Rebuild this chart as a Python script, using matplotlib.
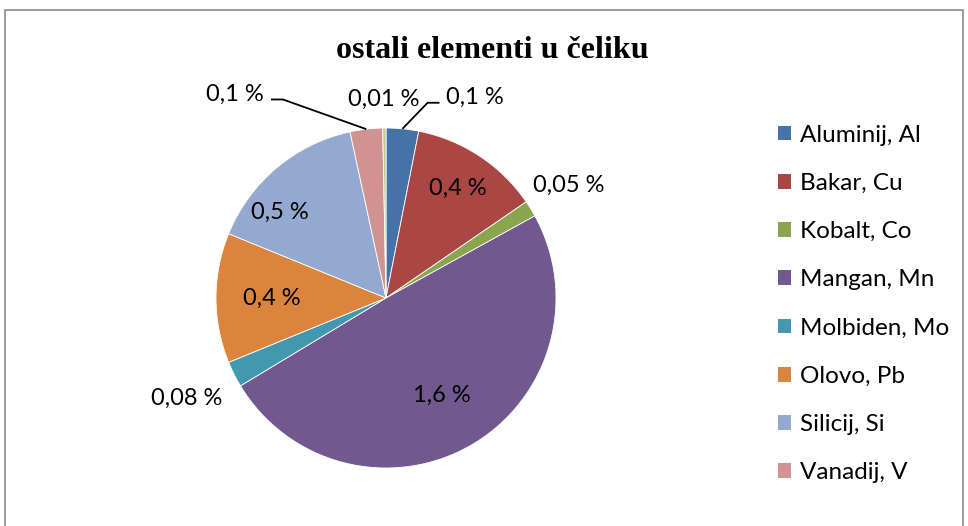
import matplotlib.pyplot as plt
import numpy as np
from matplotlib.patches import Rectangle

plt.rcParams['font.family'] = ['Lato', 'DejaVu Sans']

# data
elements = ['Aluminij, Al', 'Bakar, Cu', 'Kobalt, Co', 'Mangan, Mn', 'Molbiden, Mo',
            'Olovo, Pb', 'Silicij, Si', 'Vanadij, V', 'ostalo']
values = [0.1, 0.4, 0.05, 1.6, 0.08, 0.4, 0.5, 0.1, 0.01]
value_labels = ['0,1 %', '0,4 %', '0,05 %', '1,6 %', '0,08 %', '0,4 %', '0,5 %', '0,1 %', '0,01 %']
colors = ['#4572A7', '#AA4643', '#89A54E', '#71588F', '#4198AF',
          '#DB843D', '#93A9CF', '#D19392', '#B9CD96']
n_legend = 8  # last slice has no legend entry in the original

# label placement: (radius, angle override or None, leader line)
label_pos = [(1.29, 66, True), (0.77, None, False), (1.26, None, False),
             (0.66, None, False), (1.31, None, False), (0.67, None, False),
             (0.80, 141, False), (1.49, 126.5, True), (1.17, None, False)]

W, H = 968, 526
fig = plt.figure(figsize=(W / 100, H / 100), dpi=100)

# chart frame
fig.patches.append(Rectangle((5 / W, -0.05), 958 / W, (H - 10) / H + 0.05,
                             transform=fig.transFigure, fill=False,
                             edgecolor='#8c8c8c', linewidth=1.2))

R = 170.0
cx, cy = 386, 298
left, right, top, bottom = 140, 640, 70, 526
ax = fig.add_axes([left / W, (H - bottom) / H, (right - left) / W, (bottom - top) / H])

wedges, _ = ax.pie(values, colors=colors, startangle=90, counterclock=False,
                   radius=1.0, center=(0, 0), frame=True,
                   wedgeprops=dict(edgecolor='white', linewidth=0.6))
ax.axis('off')
ax.set_xlim((left - cx) / R, (right - cx) / R)
ax.set_ylim((cy - bottom) / R, (cy - top) / R)

for w, txt, (r, ang, leader) in zip(wedges, value_labels, label_pos):
    mid = (w.theta1 + w.theta2) / 2.0
    a = np.deg2rad(ang if ang is not None else mid)
    tx, ty = r * np.cos(a), r * np.sin(a)
    ax.text(tx, ty, txt, ha='center', va='center', fontsize=17, color='black')
    if leader:
        m = np.deg2rad(mid)
        ex, ey = 1.0 * np.cos(m), 1.0 * np.sin(m)
        side = 1 if tx > ex else -1
        # elbow next to the text
        hx = tx - side * 0.21
        ax.plot([ex, hx - side * 0.07, hx], [ey, ty - 0.03, ty - 0.03],
                color='black', linewidth=1.3, solid_capstyle='butt')

fig.text(492 / W, 1 - 50 / H, 'ostali elementi u čeliku', ha='center', va='center',
         fontsize=23, fontweight='bold', family='Liberation Serif')

leg = fig.legend(wedges[:n_legend], elements[:n_legend], loc='upper left',
                 bbox_to_anchor=(768 / W, 1 - 115 / H), frameon=False,
                 fontsize=17.5, handlelength=0.55, handleheight=0.55,
                 handletextpad=0.35, labelspacing=1.12, borderaxespad=0)
for h in leg.legend_handles:
    h.set_edgecolor('none')

fig.savefig('out.png', dpi=100)
